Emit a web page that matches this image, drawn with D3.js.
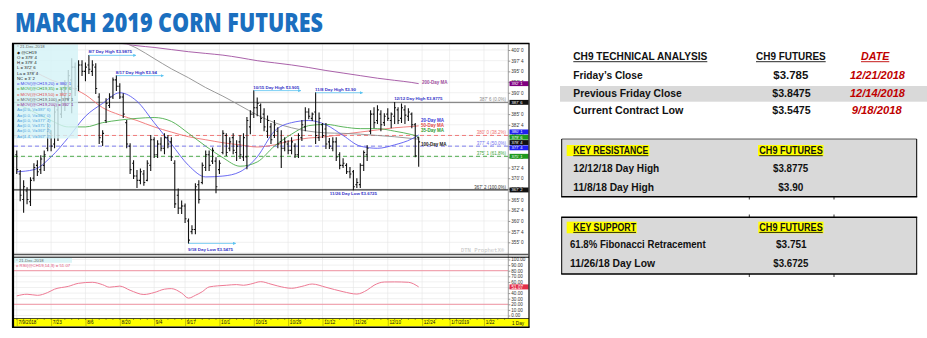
<!DOCTYPE html>
<html>
<head>
<meta charset="utf-8">
<script src="https://cdn.jsdelivr.net/npm/d3@7"></script>
<style>
  body { margin: 0; background: #fff; }
  svg text { font-family: "Liberation Sans", Arial, sans-serif; }
</style>
</head>
<body>
<svg id="chart" width="927" height="338"></svg>
<script>
// ---- data (cents / bushel), one bar per trading day from 7/9/2018 ----
const opens = [375.5,371.0,365.0,367.0,364.5,370.0,373.0,372.0,373.0,377.0,
  380.5,378.0,386.0,385.0,390.5,388.5,393.0,396.0,391.5,396.5,
  395.0,396.5,395.0,396.0,389.0,378.5,383.5,387.0,389.0,393.0,
  391.5,389.0,383.0,377.5,373.5,370.5,369.5,371.0,369.5,373.0,
  379.0,375.5,378.0,377.0,379.5,378.5,373.5,366.0,363.0,363.5,
  360.0,357.5,358.0,368.5,369.0,372.5,375.5,374.0,374.0,372.0,
  376.0,380.0,377.0,379.5,376.0,378.5,375.0,375.0,382.0,385.0,
  386.5,387.0,385.0,381.0,382.0,380.0,381.0,378.5,377.0,378.0,
  376.5,377.5,375.5,379.5,382.0,385.5,384.0,385.5,379.5,382.5,
  381.5,378.5,377.0,378.5,375.5,373.0,373.0,371.5,371.5,368.5,
  368.5,373.0,375.5,381.0,385.0,383.5,385.0,383.0,385.0,383.5,
  384.5,386.0,384.0,386.0,384.5,385.0,382.5,379.5];
const highs = [376.4,371.8,369.4,367.8,370.1,373.4,374.1,375.3,376.4,382.8,
  381.1,387.0,388.1,391.0,392.8,395.2,398.0,397.0,397.5,397.5,
  397.0,398.75,397.5,396.8,389.8,381.1,388.6,389.8,393.5,394.0,
  392.1,389.8,383.5,378.1,374.1,371.8,372.2,371.8,374.1,380.0,
  379.5,378.8,379.5,380.4,380.0,379.5,374.1,367.5,364.7,364.0,
  360.5,358.9,368.7,369.4,373.6,376.4,376.4,377.1,374.8,374.1,
  381.1,380.4,379.5,380.4,378.8,380.0,380.4,384.2,385.8,390.5,
  388.8,387.4,386.3,384.6,382.8,383.5,381.8,381.1,379.5,378.8,
  379.5,378.1,380.4,383.5,386.5,386.3,385.3,390.0,385.3,382.8,
  382.8,379.3,379.5,379.5,376.0,374.6,373.4,372.5,371.8,369.9,
  373.4,376.4,377.6,385.8,386.5,387.0,385.8,385.1,386.3,385.3,
  387.75,386.5,387.4,387.0,386.3,385.3,382.8,379.5];
const lows = [371.1,364.7,362.0,364.0,363.6,369.4,370.6,371.1,371.8,376.4,
  376.4,377.1,378.8,384.2,385.8,388.1,385.3,389.3,390.5,394.0,
  392.8,394.5,394.0,389.8,378.1,377.6,383.0,386.5,388.6,390.5,
  388.6,384.2,377.1,371.1,369.9,367.8,368.7,368.3,369.4,371.8,
  374.8,374.8,376.4,375.7,377.1,374.1,363.1,361.7,361.7,359.6,
  354.75,357.0,357.0,364.2,368.7,371.8,371.8,373.4,366.6,371.1,
  375.7,375.3,376.4,375.7,374.1,374.6,374.1,372.2,380.4,384.2,
  384.6,383.0,381.1,379.5,378.1,379.5,377.1,372.5,376.4,375.7,
  375.7,374.8,374.8,378.8,381.1,383.9,383.5,378.1,378.8,379.5,
  376.9,376.9,376.4,374.1,372.2,372.5,371.1,370.1,367.25,367.8,
  367.8,371.8,374.1,380.4,381.8,382.8,381.1,382.3,383.5,381.8,
  382.8,382.8,383.0,382.8,383.5,381.8,375.0,372.75];
const closes = [372.0,366.0,368.0,365.0,369.5,372.5,371.5,374.5,375.5,381.5,
  377.5,385.5,380.0,390.0,387.0,394.0,396.0,391.0,396.5,395.0,
  396.0,395.5,396.5,391.0,379.5,380.5,387.5,389.0,393.0,391.5,
  389.0,385.0,378.0,372.0,370.5,369.5,371.5,369.0,373.5,379.0,
  375.5,378.0,377.0,379.5,378.0,375.0,364.0,363.0,363.5,360.5,
  355.5,358.0,368.0,365.0,373.0,375.5,373.0,376.5,368.0,373.5,
  380.5,376.0,378.5,376.5,377.5,375.5,379.5,383.5,385.0,386.5,
  387.5,384.0,382.0,383.5,379.0,382.5,378.0,377.0,378.5,376.5,
  378.5,375.5,380.0,382.5,385.5,384.5,385.0,380.0,384.0,380.0,
  378.0,377.5,378.5,375.0,373.0,373.5,371.5,371.0,368.0,369.0,
  373.0,376.0,377.0,385.0,383.0,386.0,382.5,384.5,384.0,385.0,
  386.5,383.5,386.5,384.75,385.5,382.5,375.25,378.5];

// moving averages, read at sample days
const maIdx = [0,5,10,15,20,25,30,35,40,45,50,55,60,65,70,75,80,85,90,95,100,105,110,115,117];
const ma20 = [371.5,372.0,375.0,379.5,384.5,387.5,390.0,388.0,383.0,378.0,373.0,370.3,370.5,371.5,375.0,381.0,383.0,383.5,382.5,380.0,377.5,377.0,377.8,379.2,380.125];
const ma35 = [387.5,385.5,383.5,382.0,382.0,383.0,383.6,384.0,384.2,383.3,380.5,377.5,374.8,372.8,373.8,377.5,380.3,382.3,382.6,382.0,381.6,381.6,381.0,380.2,379.75];
const ma50 = [397.0,395.0,393.0,391.5,389.5,386.5,384.8,383.5,382.0,380.8,379.7,379.0,378.3,377.8,377.3,377.8,378.8,379.4,379.7,380.3,380.8,381.3,381.8,382.1,382.25];
const ma100Idx = [20,25,30,35,40,45,50,55,60,65,70,75,80,85,90,95,100,105,110,115,117];
const ma100 = [406.0,404.0,402.2,400.4,398.0,395.6,393.5,391.2,389.2,387.0,384.8,383.0,381.8,381.0,380.6,380.5,380.3,380.0,379.7,379.3,379.125];
const ma200Idx = [30,35,40,45,50,55,60,65,70,75,80,85,90,95,100,105,110,115,117];
const ma200 = [401.6,401.0,400.6,400.1,399.6,399.2,398.8,398.2,397.5,397.0,396.5,395.9,395.2,394.6,394.0,393.4,392.9,392.4,392.125];

// RSI(14), read at sample days
const rsiIdx = [0,3,6,9,11,15,18,22,25,27,30,33,37,40,43,45,48,50,52,54,56,61,64,66,68,71,74,76,80,83,86,90,95,99,102,104,107,110,114,117];
const rsiVals = [35,38,36,41,47,52,57.5,59.3,55,50.5,52.5,45,37.5,41,47,48,40,31,36,42.5,51,54,55.2,54,56,60.4,56,52.7,48.6,52,56.2,50.4,42.5,38.3,45.5,54,59.8,60,59.3,51.07];

// date axis
const tickIdx = [0,10,20,30,40,49,59,69,79,89,98,108,118,126,136];
const tickLabels = ["7/9/2018","7/23","8/6","8/20","9/4","9/17","10/1","10/15","10/29","11/12","11/26","12/10","12/24","1/7/2019","1/22"];

// fibonacci retracement 12/12 high -> 11/26 low
const fibLevels = [387.75, 380.0, 377.5, 375.125, 367.25];
const fibNames = ["0.0%", "38.2%", "50.0%", "61.8%", "100.0%"];

// chart notes
const noteIdx = [21, 29, 69, 87, 110, 50, 98];
const noteVals = [398.75, 394.0, 390.5, 390.0, 387.75, 354.75, 367.25];
const noteTexts = ["8/7 Day High $3.9875", "8/17 Day High $3.94", "10/15 Day High $3.905",
  "11/8 Day High $3.90", "12/12 Day High $3.8775", "9/18 Day Low $3.5475", "11/26 Day Low $3.6725"];

// right-hand tables
const summaryRows = ["Friday’s Close", "Previous Friday Close", "Current Contract Low"];
const summaryPrices = ["$3.785", "$3.8475", "$3.5475"];
const summaryDates = ["12/21/2018", "12/14/2018", "9/18/2018"];
const resistRows = ["12/12/18 Day High", "11/8/18 Day High"];
const resistPrices = ["$3.8775", "$3.90"];
const supportRows = ["61.8% Fibonacci Retracement", "11/26/18 Day Low"];
const supportPrices = ["$3.751", "$3.6725"];

// ---- helpers ----
const fmt = v => { const f = Math.floor(v + 1e-9); return f + "' " + Math.round((v - f) * 8); };
const svg = d3.select("#chart");

const x = d3.scaleLinear().domain([-0.8, 143]).range([14, 508]);
const y = d3.scaleLinear().domain([355, 400]).range([242.3, 50]);
const yr = d3.scaleLinear().domain([0, 100]).range([315.5, 259.5]);

const BLUE = "#5a5af0", GREEN = "#4cae4c", RED = "#f07272", GRAY = "#8e8e8e", PURPLE = "#a050a0";

// title
svg.append("text")
  .attr("x", 15).attr("y", 32.3)
  .style("font-family", "'Open Sans', sans-serif")
  .attr("font-weight", 800).attr("font-size", 26)
  .attr("fill", "#1b6fbf")
  .attr("textLength", 308).attr("lengthAdjust", "spacingAndGlyphs")
  .text("MARCH 2019 CORN FUTURES");

const chart = svg.append("g");

// panels
chart.append("rect").attr("x", 13).attr("y", 44).attr("width", 516).attr("height", 283).attr("fill", "#fff");

svg.append("defs").append("clipPath").attr("id", "pclip")
  .append("rect").attr("x", 14).attr("y", 44.5).attr("width", 494).attr("height", 209.5);
svg.select("defs").append("marker").attr("id", "arr")
  .attr("viewBox", "0 0 6 6").attr("refX", 5).attr("refY", 3)
  .attr("markerWidth", 4).attr("markerHeight", 4).attr("orient", "auto")
  .append("path").attr("d", "M0,0L6,3L0,6Z").attr("fill", "#5bc3f0");

const grid = chart.append("g").attr("stroke", "#e6e6e6").attr("stroke-width", 0.6);
d3.range(352.5, 400.1, 2.5).forEach(v => {
  grid.append("line").attr("x1", 14).attr("x2", 508).attr("y1", y(v)).attr("y2", y(v));
});
d3.range(0, 101, 10).forEach(v => {
  grid.append("line").attr("x1", 14).attr("x2", 508).attr("y1", yr(v)).attr("y2", yr(v));
});
tickIdx.forEach(i => {
  grid.append("line").attr("x1", x(i)).attr("x2", x(i)).attr("y1", 44.5).attr("y2", 254);
  grid.append("line").attr("x1", x(i)).attr("x2", x(i)).attr("y1", 257.5).attr("y2", 318.5);
});

const plot = chart.append("g").attr("clip-path", "url(#pclip)");

// fibonacci lines
const fibColor = ["#8a8a8a", "#ef6f6f", "#7070ee", "#3aa23a", "#333"];
const fibDash = [null, "4,3", "4,3", "4,3", null];
fibLevels.forEach((v, k) => {
  plot.append("line").attr("x1", 14).attr("x2", 508).attr("y1", y(v)).attr("y2", y(v))
    .attr("stroke", fibColor[k]).attr("stroke-width", k === 0 || k === 4 ? 1.3 : 0.9)
    .attr("stroke-dasharray", fibDash[k]);
  plot.append("text").attr("x", 506).attr("y", y(v) - 1).attr("text-anchor", "end")
    .attr("font-size", 4.5).attr("fill", fibColor[k]).text(fmt(v) + " (" + fibNames[k] + ")");
});

// moving averages
const maLine = d3.line().x(d => x(d[0])).y(d => y(d[1])).curve(d3.curveMonotoneX);
[[maIdx, ma50, RED], [maIdx, ma35, GREEN], [ma100Idx, ma100, GRAY], [ma200Idx, ma200, PURPLE], [maIdx, ma20, BLUE]]
  .forEach(([idx, vals, c]) => {
    plot.append("path").datum(idx.map((i, k) => [i, vals[k]]))
      .attr("d", maLine).attr("fill", "none").attr("stroke", c).attr("stroke-width", 0.9);
  });

// OHLC bars
const bars = plot.append("g").attr("stroke", "#111").attr("stroke-width", 1.1);
highs.forEach((h, i) => {
  const cx = x(i);
  bars.append("line").attr("x1", cx).attr("x2", cx).attr("y1", y(h) - 0.4).attr("y2", y(lows[i]) + 0.4);
  bars.append("line").attr("x1", cx - 1.4).attr("x2", cx).attr("y1", y(opens[i])).attr("y2", y(opens[i]));
  bars.append("line").attr("x1", cx).attr("x2", cx + 1.4).attr("y1", y(closes[i])).attr("y2", y(closes[i]));
});

// notes
noteTexts.forEach((t, k) => {
  const i = noteIdx[k], v = noteVals[k];
  const isLow = k >= 5;
  const centered = k === 6;
  plot.append("text")
    .attr("x", centered ? x(i) : x(i) - 0.5)
    .attr("y", isLow ? y(v) + (centered ? 5 : 7.2) : y(v) - 2)
    .attr("text-anchor", centered ? "middle" : "start")
    .attr("font-size", 4.4).attr("font-weight", 700).attr("fill", "#3434c8").text(t);
  if (k !== 4 && k !== 6) {
    plot.append("line").attr("x1", x(i)).attr("x2", x(i) + 47).attr("y1", y(v)).attr("y2", y(v))
      .attr("stroke", "#5bc3f0").attr("stroke-width", 0.8).attr("marker-end", "url(#arr)");
  }
});

// moving average labels near the last bar
const maLabels = [["200-Day MA", PURPLE, 422, 84], ["20-Day MA", "#3b3bd8", 421, 121.5],
  ["50-Day MA", "#e04848", 421, 126.5], ["35-Day MA", "#2e9a2e", 421, 131.5], ["100-Day MA", "#222", 421, 145.8]];
maLabels.forEach(([t, c, lx, ly]) => {
  plot.append("text").attr("x", lx).attr("y", ly).attr("font-size", 4.5).attr("font-weight", 700)
    .attr("fill", c).text(t);
});

// watermark
plot.append("text").attr("x", 461).attr("y", 252).attr("font-size", 5.5)
  .style("font-family", "'DejaVu Sans Mono', monospace").attr("fill", "#c4c4c4").text("DTN ProphetX®");

// legend box (top left)
const lg = chart.append("g");
lg.append("rect").attr("x", 14).attr("y", 44.5).attr("width", 64).attr("height", 94)
  .attr("fill", "#d4f3f6").attr("opacity", 0.82);
const last = highs.length - 1;
const legendRows = [
  ["° 21-Dec-2018", "#666"], ["◆ @CH19", "#222"],
  ["O = " + fmt(opens[last]), "#222"], ["H = " + fmt(highs[last]), "#222"],
  ["L = " + fmt(lows[last]), "#222"], ["La = " + fmt(closes[last]), "#222"],
  ["NC = " + fmt(closes[last] - closes[last - 1]), "#222"],
  ["o MOV(@CH19,20) = " + fmt(ma20[ma20.length - 1]), "#4040e8"],
  ["o MOV(@CH19,35) = " + fmt(ma35[ma35.length - 1]), "#2e9a2e"],
  ["o MOV(@CH19,50) = " + fmt(ma50[ma50.length - 1]), "#e04848"],
  ["o MOV(@CH19,100) = " + fmt(ma100[ma100.length - 1]), "#555"],
  ["o MOV(@CH19,200) = " + fmt(ma200[ma200.length - 1]), "#8b1a8b"]
];
fibLevels.forEach(v => legendRows.push(["A=(0.0, V=" + fmt(v) + ")", "#4fa3e0"]));
legendRows.push(["A=(4.4, V=" + fmt(fibLevels[4]) + ")", "#4fa3e0"]);
legendRows.forEach(([t, c], k) => {
  lg.append("text").attr("x", 17).attr("y", 48.3 + k * 5.25).attr("font-size", 4.3).attr("fill", c).text(t);
});

// price axis
const yAxis = d3.axisRight(y).tickValues(d3.range(355, 400.1, 2.5)).tickFormat(fmt).tickSize(2).tickPadding(1);
const ya = chart.append("g").attr("transform", "translate(508.3,0)").call(yAxis);
ya.select(".domain").remove();
ya.selectAll("line").attr("stroke", "#555").attr("stroke-width", 0.6);
ya.selectAll("text").attr("font-size", 4.6).attr("fill", "#333").style("font-family", "'Liberation Sans', Arial");

// value boxes on the axis
const boxVals = [ma200[ma200.length - 1], fibLevels[0], ma20[ma20.length - 1], ma35[ma35.length - 1], closes[last], fibLevels[2], fibLevels[3], fibLevels[4]];
const boxCols = ["#800080", "#111", "#1f1ff0", "#1e9a1e", "#111", "#1f1ff0", "#1e9a1e", "#111"];
const by = boxVals.map(v => y(v));
const BH = 5.3;
for (let it = 0; it < 60; it++) {
  for (let k = 1; k < by.length; k++) {
    const gap = by[k] - by[k - 1];
    if (gap < BH) { const d = (BH - gap) / 2; by[k - 1] -= d; by[k] += d; }
  }
}
boxVals.forEach((v, k) => {
  chart.append("rect").attr("x", 509.5).attr("y", by[k] - BH / 2 + 0.2).attr("width", 19).attr("height", BH - 0.4)
    .attr("fill", boxCols[k]);
  chart.append("text").attr("x", 511.5).attr("y", by[k] + 1.5).attr("font-size", 4.1).attr("fill", "#fff").text(fmt(v));
});

// RSI panel
const rp = chart.append("g");
[80, 20].forEach(v => {
  rp.append("line").attr("x1", 14).attr("x2", 508).attr("y1", yr(v)).attr("y2", yr(v))
    .attr("stroke", "#f08a9a").attr("stroke-width", 0.9);
});
rp.append("path").datum(rsiIdx.map((i, k) => [i, rsiVals[k]]))
  .attr("d", d3.line().x(d => x(d[0])).y(d => yr(d[1])).curve(d3.curveMonotoneX))
  .attr("fill", "none").attr("stroke", "#ee7a94").attr("stroke-width", 1);
rp.append("rect").attr("x", 14).attr("y", 257.8).attr("width", 58).attr("height", 5).attr("fill", "#dcf5f7");
rp.append("text").attr("x", 16).attr("y", 261.8).attr("font-size", 4.3).attr("fill", "#666").text("° 21-Dec-2018");
rp.append("text").attr("x", 16).attr("y", 266.8).attr("font-size", 4.3).attr("fill", "#e0507a")
  .text("o RSI(@CH19,14,3) = " + rsiVals[rsiVals.length - 1].toFixed(2));

const rAxis = d3.axisRight(yr).tickValues(d3.range(0, 101, 10)).tickFormat(d => d.toFixed(2)).tickSize(2).tickPadding(1);
const ra = chart.append("g").attr("transform", "translate(508.3,0)").call(rAxis);
ra.select(".domain").remove();
ra.selectAll("line").attr("stroke", "#555").attr("stroke-width", 0.6);
ra.selectAll("text").attr("font-size", 4.6).attr("fill", "#333").style("font-family", "'Liberation Sans', Arial");
const rLast = rsiVals[rsiVals.length - 1];
chart.append("rect").attr("x", 509.5).attr("y", yr(rLast) - 2.5).attr("width", 19).attr("height", 5).attr("fill", "#e3304a");
chart.append("text").attr("x", 511.5).attr("y", yr(rLast) + 1.7).attr("font-size", 4.6).attr("fill", "#fff").text(rLast.toFixed(2));

// date axis band
chart.append("rect").attr("x", 14).attr("y", 318.5).attr("width", 515).attr("height", 8).attr("fill", "#ffff00");
const xAxis = d3.axisBottom(x).tickValues(tickIdx).tickFormat((d, k) => tickLabels[k]).tickSize(7.5).tickPadding(0);
const xa = chart.append("g").attr("transform", "translate(0,318.5)").call(xAxis);
xa.select(".domain").remove();
xa.selectAll("line").attr("stroke", "#8a8a00").attr("stroke-width", 0.5);
xa.selectAll("text").attr("text-anchor", "start").attr("dx", 1.2).attr("y", 1.3).attr("dy", "0.9em")
  .attr("font-size", 4.6).attr("fill", "#111").style("font-family", "'Liberation Sans', Arial");
d3.range(0, 143, 2).forEach(i => {
  chart.append("line").attr("x1", x(i)).attr("x2", x(i)).attr("y1", 318.8).attr("y2", 320)
    .attr("stroke", "#333").attr("stroke-width", 0.5);
});
chart.append("text").attr("x", 512).attr("y", 324.6).attr("font-size", 4.6).attr("fill", "#111").text("1 Day");

// frames
const fr = chart.append("g").attr("stroke", "#000").attr("fill", "none");
fr.append("line").attr("x1", 12).attr("x2", 529.5).attr("y1", 43.5).attr("y2", 43.5).attr("stroke-width", 1.7);
fr.append("line").attr("x1", 13).attr("x2", 13).attr("y1", 43.5).attr("y2", 327.5).attr("stroke-width", 2.2);
fr.append("line").attr("x1", 12).attr("x2", 529.5).attr("y1", 327.2).attr("y2", 327.2).attr("stroke-width", 1.6);
fr.append("line").attr("x1", 529).attr("x2", 529).attr("y1", 43.5).attr("y2", 327.5).attr("stroke-width", 1.2);
fr.append("line").attr("x1", 508.3).attr("x2", 508.3).attr("y1", 44).attr("y2", 318.5).attr("stroke", "#888").attr("stroke-width", 0.8);
fr.append("line").attr("x1", 14).attr("x2", 529).attr("y1", 254.5).attr("y2", 254.5).attr("stroke", "#555").attr("stroke-width", 1.3);
fr.append("line").attr("x1", 14).attr("x2", 529).attr("y1", 257.2).attr("y2", 257.2).attr("stroke-width", 1);
fr.append("line").attr("x1", 14).attr("x2", 529).attr("y1", 318.5).attr("y2", 318.5).attr("stroke-width", 0.7);

// ---- right-hand tables ----
const tb = svg.append("g").style("font-family", "'Open Sans', 'Liberation Sans', sans-serif");
function cell(s, tx, ty, w, o = {}) {
  const t = tb.append("text").attr("x", tx).attr("y", ty).attr("font-size", 10).attr("font-weight", 700)
    .attr("fill", o.fill || "#111").attr("textLength", w).attr("lengthAdjust", "spacingAndGlyphs").text(s);
  if (o.italic) t.attr("font-style", "italic");
  if (o.under) tb.append("line").attr("x1", tx).attr("x2", tx + w).attr("y1", ty + 1.7).attr("y2", ty + 1.7)
    .attr("stroke", o.fill || "#111").attr("stroke-width", 0.9);
  return t;
}
const DRED = "#c00000";

// summary table
tb.append("rect").attr("x", 560).attr("y", 86).attr("width", 367).attr("height", 15.7).attr("fill", "#d9d9d9");
cell("CH9 TECHNICAL ANALYSIS", 573.3, 60, 134, { under: true });
cell("CH9 FUTURES", 756, 60, 69.7, { under: true });
cell("DATE", 861, 60, 28.3, { under: true, italic: true, fill: DRED });
const rowY = [79, 96.7, 114];
const rowW = [69.4, 108.4, 110];
const priceX = [773.3, 772.3, 772.3], priceW = [35, 38.4, 38.4];
const dateX = [850, 850, 851.7], dateW = [55, 55, 50];
summaryRows.forEach((r, k) => {
  cell(r, 573.3, rowY[k], rowW[k]);
  cell(summaryPrices[k], priceX[k], rowY[k], priceW[k]);
  cell(summaryDates[k], dateX[k], rowY[k], dateW[k], { italic: true, fill: DRED });
});

// resistance box
tb.append("rect").attr("x", 561.7).attr("y", 139).attr("width", 355).attr("height", 57.7).attr("fill", "#d9d9d9");
tb.append("line").attr("x1", 561.7).attr("x2", 916.7).attr("y1", 139).attr("y2", 139).attr("stroke", "#333").attr("stroke-width", 0.8);
tb.append("line").attr("x1", 561.2).attr("x2", 917.2).attr("y1", 196.7).attr("y2", 196.7).attr("stroke", "#000").attr("stroke-width", 1.6);
tb.append("line").attr("x1", 561.7).attr("x2", 561.7).attr("y1", 139).attr("y2", 196.7).attr("stroke", "#000").attr("stroke-width", 1);
tb.append("line").attr("x1", 916.7).attr("x2", 916.7).attr("y1", 139).attr("y2", 196.7).attr("stroke", "#000").attr("stroke-width", 1);
tb.append("rect").attr("x", 566.7).attr("y", 145).attr("width", 82.6).attr("height", 11).attr("fill", "#ffff00");
tb.append("rect").attr("x", 758).attr("y", 145).attr("width", 65.5).attr("height", 11).attr("fill", "#ffff00");
cell("KEY RESISTANCE", 573.3, 154, 75, { under: true });
cell("CH9 FUTURES", 759.3, 154, 63.4, { under: true });
const resW = [86, 80.7], resPX = [773, 778.3], resPW = [35.3, 25];
resistRows.forEach((r, k) => {
  cell(r, 573.3, 172 + k * 18.7, resW[k]);
  cell(resistPrices[k], resPX[k], 172 + k * 18.7, resPW[k]);
});

// support box
tb.append("rect").attr("x", 561.7).attr("y", 217.3).attr("width", 355).attr("height", 56.7).attr("fill", "#d9d9d9");
tb.append("line").attr("x1", 561.2).attr("x2", 917.2).attr("y1", 217.3).attr("y2", 217.3).attr("stroke", "#000").attr("stroke-width", 1.6);
tb.append("line").attr("x1", 561.2).attr("x2", 917.2).attr("y1", 274).attr("y2", 274).attr("stroke", "#000").attr("stroke-width", 1.6);
tb.append("line").attr("x1", 561.7).attr("x2", 561.7).attr("y1", 217.3).attr("y2", 274).attr("stroke", "#000").attr("stroke-width", 1);
tb.append("line").attr("x1", 916.7).attr("x2", 916.7).attr("y1", 217.3).attr("y2", 274).attr("stroke", "#000").attr("stroke-width", 1);
[749.3, 834].forEach(vx => {
  [[196.7, 199.5], [214.5, 217.3], [274, 277]].forEach(([a, b]) => {
    tb.append("line").attr("x1", vx).attr("x2", vx).attr("y1", a).attr("y2", b).attr("stroke", "#000").attr("stroke-width", 0.8);
  });
});
tb.append("rect").attr("x", 566.7).attr("y", 221.7).attr("width", 70).attr("height", 11.6).attr("fill", "#ffff00");
tb.append("rect").attr("x", 758.3).attr("y", 221.7).attr("width", 65.2).attr("height", 11.6).attr("fill", "#ffff00");
cell("KEY SUPPORT", 573.3, 230.7, 62.7, { under: true });
cell("CH9 FUTURES", 759.3, 230.7, 63.4, { under: true });
const supW = [135.7, 85], supPX = [776, 773.3], supPW = [30.7, 35];
supportRows.forEach((r, k) => {
  cell(r, 570, 248.3 + k * 18.4, supW[k]);
  cell(supportPrices[k], supPX[k], 248.3 + k * 18.4, supPW[k]);
});
</script>
</body>
</html>
